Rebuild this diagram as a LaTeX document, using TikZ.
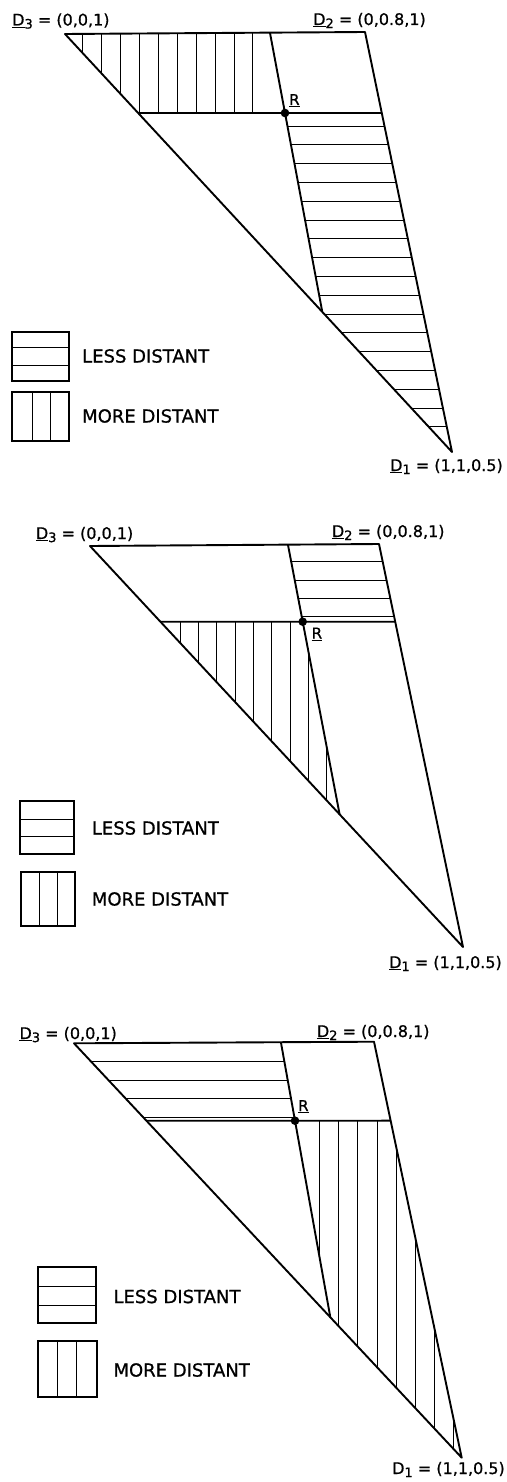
\documentclass[tikz,border=0pt]{standalone}
\usepackage{fontspec}
\setmainfont{DejaVu Sans}[FakeBold=0.8]
\usetikzlibrary{calc}
\newcommand{\vecD}[1]{\underline{D}\raisebox{-0.35ex}{\fontsize{13}{13}\selectfont #1}}
\newcommand{\plainD}[1]{D\raisebox{-0.35ex}{\fontsize{13}{13}\selectfont #1}}
\tikzset{
  outline/.style={line width=1.9pt, line join=round},
  hatchline/.style={line width=0.7pt},
  lbl/.style={font=\fontsize{16}{18}\selectfont, inner sep=0pt, anchor=base west},
  lblr/.style={font=\fontsize{16}{18}\selectfont, inner sep=0pt, anchor=base east},
  rlbl/.style={font=\fontsize{15}{17}\selectfont, inner sep=0pt, anchor=base west},
  legtext/.style={font=\fontsize{18}{20}\selectfont, inner sep=0pt, anchor=west},
  legbox/.style={line width=1.7pt},
  rdot/.style={fill=black}
}
\begin{document}
\begin{tikzpicture}[x=1pt,y=-1pt]
\useasboundingbox (0,0) rectangle (506,1482);

% ================= PANEL 1 =================
\coordinate (D3a) at (65,34);
\coordinate (D2a) at (365,32);
\coordinate (D1a) at (452,452);
\coordinate (Ta) at (270,33);
\coordinate (Ra) at (285,113);
\coordinate (Rax) at (700,113);
\coordinate (La) at (intersection of Ta--Ra and D3a--D1a);
\coordinate (HLa) at (intersection of Ra--Rax and D3a--D1a);
\coordinate (HRa) at (intersection of Ra--Rax and D2a--D1a);

\begin{scope}
  \clip (D3a)--(Ta)--(Ra)--(HLa)--cycle;
  \foreach \k in {0,...,9} \draw[hatchline] ({82.7+18.9*\k},0)--({82.7+18.9*\k},200);
\end{scope}
\begin{scope}
  \clip (Ra)--(HRa)--(D1a)--(La)--cycle;
  \foreach \k in {0,...,16} \draw[hatchline] (0,{126+18.8*\k})--(506,{126+18.8*\k});
\end{scope}
\draw[outline] (D3a)--(D2a)--(D1a)--cycle;
\draw[outline] (Ta)--(La);
\draw[outline] (HLa)--(HRa);
\fill[rdot] (Ra) circle[radius=4.3pt];

\node[lbl] (lD3a) at (12,25.5) {\vecD{3} = (0,0,1)};
\node[lbl] (lD2a) at (313,25) {\vecD{2} = (0,0.8,1)};
\node[lblr] (lD1a) at (503,471) {\vecD{1} = (1,1,0.5)};
\node[rlbl] (lRa) at (289,105) {\underline{R}};

\draw[legbox] (12.3,332.3) rectangle (69,380.7);
\draw[hatchline] (12.3,347.3)--(69,347.3);
\draw[hatchline] (12.3,365.7)--(69,365.7);
\draw[legbox] (12.3,392.3) rectangle (69,441);
\draw[hatchline] (32.3,392.3)--(32.3,441);
\draw[hatchline] (50.7,392.3)--(50.7,441);
\node[legtext] (lessa) at (82,356) {LESS DISTANT};
\node[legtext] (morea) at (82,416) {MORE DISTANT};

% ================= PANEL 2 =================
\coordinate (D3b) at (90,546);
\coordinate (D2b) at (379,544);
\coordinate (D1b) at (463,947);
\coordinate (Tb) at (288,545);
\coordinate (Rb) at (302.7,621.7);
\coordinate (Rbx) at (700,621.7);
\coordinate (Lb) at (intersection of Tb--Rb and D3b--D1b);
\coordinate (HLb) at (intersection of Rb--Rbx and D3b--D1b);
\coordinate (HRb) at (intersection of Rb--Rbx and D2b--D1b);

\begin{scope}
  \clip (Tb)--(D2b)--(HRb)--(Rb)--cycle;
  \foreach \y in {561.7,580,598.3,616.7} \draw[hatchline] (0,\y)--(506,\y);
\end{scope}
\begin{scope}
  \clip (HLb)--(Rb)--(Lb)--cycle;
  \foreach \k in {0,...,8} \draw[hatchline] ({180+18.35*\k},600)--({180+18.35*\k},850);
\end{scope}
\draw[outline] (D3b)--(D2b)--(D1b)--cycle;
\draw[outline] (Tb)--(Lb);
\draw[outline] (HLb)--(HRb);
\fill[rdot] (Rb) circle[radius=4.3pt];

\node[lbl] (lD3b) at (35.7,539) {\vecD{3} = (0,0,1)};
\node[lbl] (lD2b) at (331.7,537) {\vecD{2} = (0,0.8,1)};
\node[lblr] (lD1b) at (502,968) {\vecD{1} = (1,1,0.5)};
\node[rlbl] (lRb) at (311.5,638.5) {\underline{R}};

\draw[legbox] (20,800.7) rectangle (74,854);
\draw[hatchline] (20,819)--(74,819);
\draw[hatchline] (20,836.3)--(74,836.3);
\draw[legbox] (20.7,871.7) rectangle (75,926);
\draw[hatchline] (39,871.7)--(39,926);
\draw[hatchline] (57.3,871.7)--(57.3,926);
\node[legtext] (lessb) at (91.7,828) {LESS DISTANT};
\node[legtext] (moreb) at (91.7,899) {MORE DISTANT};

% ================= PANEL 3 =================
\coordinate (D3c) at (74,1043.3);
\coordinate (D2c) at (374,1041.7);
\coordinate (D1c) at (461.7,1457.7);
\coordinate (Tc) at (281,1042.8);
\coordinate (Rc) at (295,1120.7);
\coordinate (Rcx) at (700,1120.7);
\coordinate (Lc) at (intersection of Tc--Rc and D3c--D1c);
\coordinate (HLc) at (intersection of Rc--Rcx and D3c--D1c);
\coordinate (HRc) at (intersection of Rc--Rcx and D2c--D1c);

\begin{scope}
  \clip (D3c)--(Tc)--(Rc)--(HLc)--cycle;
  \foreach \y in {1061.7,1080,1098.3,1117.7} \draw[hatchline] (0,\y)--(506,\y);
\end{scope}
\begin{scope}
  \clip (Rc)--(HRc)--(D1c)--(Lc)--cycle;
  \foreach \k in {0,...,7} \draw[hatchline] ({319.3+19.2*\k},1100)--({319.3+19.2*\k},1470);
\end{scope}
\draw[outline] (D3c)--(D2c)--(D1c)--cycle;
\draw[outline] (Tc)--(Lc);
\draw[outline] (HLc)--(HRc);
\fill[rdot] (Rc) circle[radius=4.3pt];

\node[lbl] (lD3c) at (19.3,1039) {\vecD{3} = (0,0,1)};
\node[lbl] (lD2c) at (316.7,1037) {\vecD{2} = (0,0.8,1)};
\node[lblr] (lD1c) at (505,1474) {\plainD{1} = (1,1,0.5)};
\node[rlbl] (lRc) at (298,1111) {\underline{R}};

\draw[legbox] (38.3,1267.3) rectangle (96,1322.7);
\draw[hatchline] (38.3,1286.7)--(96,1286.7);
\draw[hatchline] (38.3,1305)--(96,1305);
\draw[legbox] (38.3,1341) rectangle (96.7,1396.7);
\draw[hatchline] (57.7,1341)--(57.7,1396.7);
\draw[hatchline] (76.7,1341)--(76.7,1396.7);
\node[legtext] (lessc) at (113.3,1296.5) {LESS DISTANT};
\node[legtext] (morec) at (113.3,1370) {MORE DISTANT};
\end{tikzpicture}
\end{document}
